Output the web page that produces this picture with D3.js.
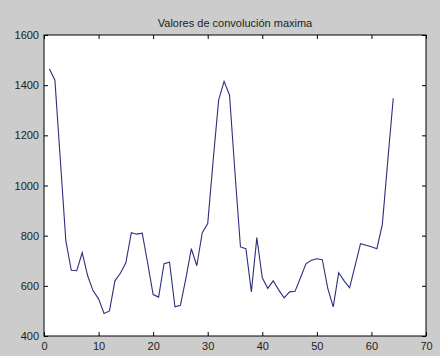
<!DOCTYPE html>
<html>
<head>
<meta charset="utf-8">
<script src="https://cdn.jsdelivr.net/npm/d3@7"></script>
<style>
  body { margin: 0; background: #cccccc; }
  svg { display: block; font-family: "Liberation Sans", Arial, sans-serif; }
</style>
</head>
<body>
<div id="chart"></div>
<script>
// Valores de convolución maxima, one value per window position

const title = "Valores de convolución maxima";
const positions = d3.range(1, 65);
const values = [
    1464, 1420, 1100, 780, 662, 660, 732, 640, 580, 548,
    490, 500, 620, 650, 692, 812, 806, 810, 690, 565,
    555, 688, 694, 516, 522, 630, 748, 680, 812, 848,
    1100, 1340, 1415, 1360, 1050, 755, 748, 576, 792, 632,
    590, 620, 584, 552, 576, 578, 632, 688, 702, 708,
    704, 590, 516, 652, 620, 592, 680, 768, 762, 756,
    748, 845, 1100, 1348
];
const xTicks = [0, 10, 20, 30, 40, 50, 60, 70];
const yTicks = [400, 600, 800, 1000, 1200, 1400, 1600];

const width = 440,
    height = 356,
    margin = ({top: 35, right: 14, bottom: 20, left: 44});

const data = positions.map((p, i) => ({x: p, y: values[i]}));

let svg = d3.select("#chart")
    .append("svg")
    .attr("width", width)
    .attr("height", height);

// X - axis = position
const x = d3.scaleLinear()
    .domain([0, 70])
    .range([margin.left, width - margin.right]);

// Y - axis = value
const y = d3.scaleLinear()
    .domain([400, 1600])
    .range([height - margin.bottom, margin.top]);

// white plot area
svg.append("rect")
    .attr("x", x(0))
    .attr("y", y(1600))
    .attr("width", x(70) - x(0))
    .attr("height", y(400) - y(1600))
    .attr("fill", "#fff");

// MATLAB style axes: ticks point inward, labels outside
const styleAxis = g => {
    g.select(".domain").remove();
    g.selectAll(".tick line").attr("stroke", "#000");
    g.selectAll(".tick text").attr("fill", "#222").style("font-size", "11px");
};

svg.append("g")
    .attr("transform", `translate(0,${y(400)})`)
    .call(d3.axisBottom(x).tickValues(xTicks).tickFormat(d3.format("d"))
        .tickSizeInner(-4).tickSizeOuter(0).tickPadding(6))
    .call(styleAxis);

svg.append("g")
    .attr("transform", `translate(0,${y(1600)})`)
    .call(d3.axisTop(x).tickValues(xTicks).tickSizeInner(-4).tickSizeOuter(0).tickFormat(""))
    .call(styleAxis);

svg.append("g")
    .attr("transform", `translate(${x(0)},0)`)
    .call(d3.axisLeft(y).tickValues(yTicks).tickFormat(d3.format("d"))
        .tickSizeInner(-4).tickSizeOuter(0).tickPadding(5))
    .call(styleAxis);

svg.append("g")
    .attr("transform", `translate(${x(70)},0)`)
    .call(d3.axisRight(y).tickValues(yTicks).tickSizeInner(-4).tickSizeOuter(0).tickFormat(""))
    .call(styleAxis);

// box round the plot
svg.append("rect")
    .attr("x", x(0))
    .attr("y", y(1600))
    .attr("width", x(70) - x(0))
    .attr("height", y(400) - y(1600))
    .attr("fill", "none")
    .attr("stroke", "#000")
    .attr("stroke-width", 1);

// the line
svg.append("path")
    .datum(data)
    .attr("fill", "none")
    .attr("stroke", "#2e2e7e")
    .attr("stroke-width", 1.1)
    .attr("d", d3.line().x(d => x(d.x)).y(d => y(d.y)));

svg.append("text")
    .attr("x", (x(0) + x(70)) / 2)
    .attr("y", 27)
    .attr("text-anchor", "middle")
    .style("font-size", "11px")
    .attr("fill", "#222")
    .text(title);
</script>
</body>
</html>
